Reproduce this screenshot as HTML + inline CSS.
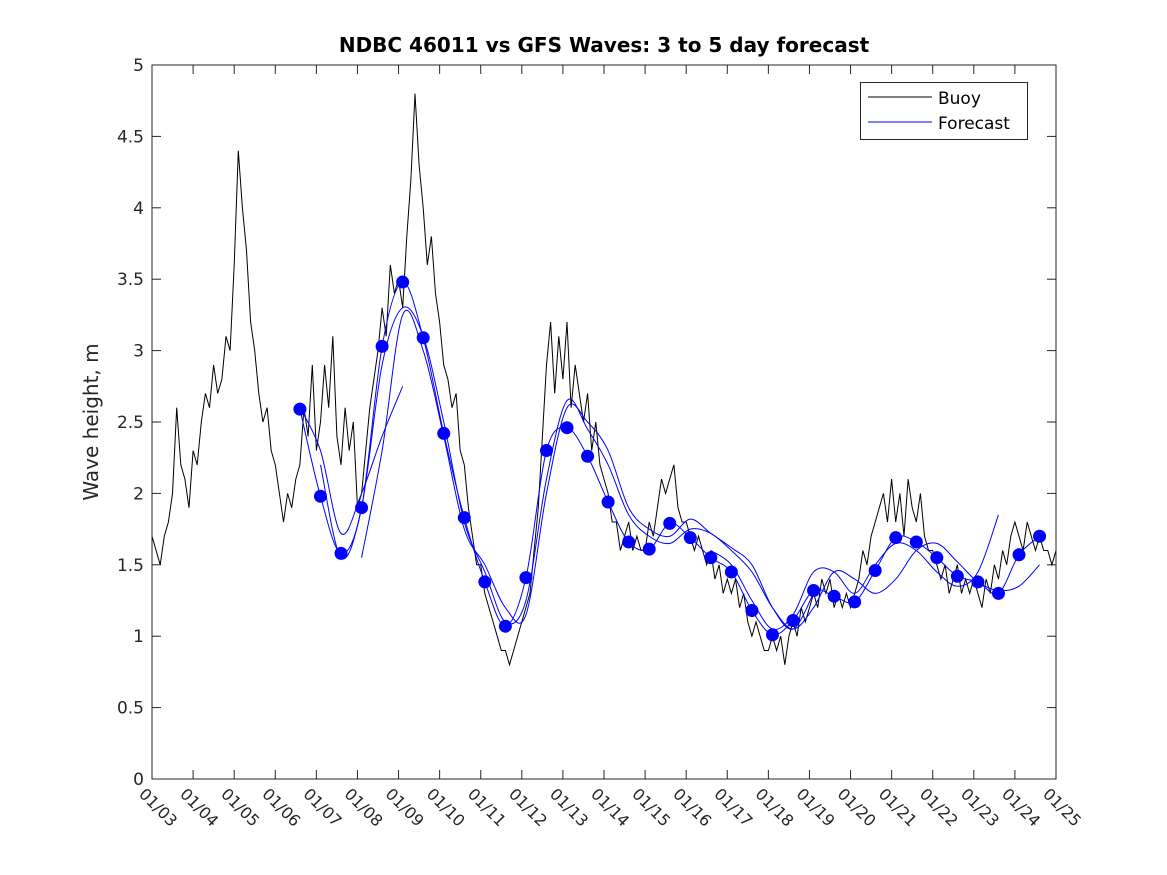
<!DOCTYPE html>
<html><head><meta charset="utf-8"><style>
html,body{margin:0;padding:0;background:#fff;}
svg{display:block;font-family:"DejaVu Sans","Liberation Sans",sans-serif;}
</style></head><body>
<svg id="chart" width="1167" height="875" viewBox="0 0 1167 875" xmlns="http://www.w3.org/2000/svg">
<rect width="1167" height="875" fill="#fff"/>
<text x="604" y="52" text-anchor="middle" font-size="20" font-weight="bold">NDBC 46011 vs GFS Waves: 3 to 5 day forecast</text>
<text transform="translate(98,422) rotate(-90)" text-anchor="middle" font-size="20" fill="#262626">Wave height, m</text>
<g id="axes"></g>
<g id="series"></g>
<rect x="152" y="65" width="904" height="714" fill="none" stroke="#262626" stroke-width="1"/>
<g>
<rect x="860.5" y="82.5" width="167" height="57" fill="#fff" stroke="#262626"/>
<line x1="868" y1="97" x2="932" y2="97" stroke="#000"/>
<text x="938" y="104" font-size="17">Buoy</text>
<line x1="868" y1="122" x2="932" y2="122" stroke="#00f"/>
<text x="938" y="129" font-size="17">Forecast</text>
</g>
</svg>
<script>
const xTickLabels=["01/03","01/04","01/05","01/06","01/07","01/08","01/09","01/10","01/11","01/12","01/13","01/14","01/15","01/16","01/17","01/18","01/19","01/20","01/21","01/22","01/23","01/24","01/25"];
const yTicks=[0,0.5,1,1.5,2,2.5,3,3.5,4,4.5,5];
const yTickLabels=["0","0.5","1","1.5","2","2.5","3","3.5","4","4.5","5"];
const buoyStart=0, buoyStep=0.1;
const buoyValues=[
1.7,1.6,1.5,1.7,1.8,2.0,2.6,2.2,2.1,1.9,
2.3,2.2,2.5,2.7,2.6,2.9,2.7,2.8,3.1,3.0,
3.6,4.4,4.0,3.7,3.2,3.0,2.7,2.5,2.6,2.3,
2.2,2.0,1.8,2.0,1.9,2.1,2.2,2.6,2.4,2.9,
2.3,2.5,2.9,2.6,3.1,2.4,2.2,2.6,2.3,2.5,
1.9,2.0,2.3,2.6,2.8,3.0,3.3,3.1,3.6,3.4,
3.5,3.3,3.8,4.2,4.8,4.3,4.0,3.6,3.8,3.4,
3.2,2.9,2.8,2.6,2.7,2.3,2.2,1.9,1.7,1.5,
1.5,1.3,1.2,1.1,1.0,0.9,0.9,0.8,0.9,1.0,
1.1,1.2,1.3,1.6,1.9,2.4,2.9,3.2,2.7,3.1,
2.8,3.2,2.6,2.9,2.7,2.5,2.7,2.3,2.5,2.2,
2.1,2.0,1.8,1.8,1.6,1.7,1.8,1.6,1.7,1.6,
1.6,1.8,1.7,1.9,2.1,2.0,2.1,2.2,1.9,1.8,
1.8,1.7,1.6,1.7,1.6,1.5,1.6,1.4,1.5,1.3,
1.4,1.3,1.4,1.2,1.3,1.1,1.0,1.1,1.0,0.9,
0.9,1.0,0.9,1.0,0.8,1.0,1.1,1.0,1.2,1.1,
1.2,1.3,1.2,1.4,1.3,1.4,1.2,1.3,1.2,1.3,
1.2,1.3,1.4,1.6,1.5,1.7,1.8,1.9,2.0,1.8,
2.1,1.8,2.0,1.7,2.1,1.9,1.8,2.0,1.7,1.6,
1.6,1.5,1.4,1.5,1.3,1.4,1.5,1.3,1.4,1.3,
1.4,1.3,1.2,1.4,1.3,1.5,1.4,1.6,1.5,1.7,
1.8,1.7,1.6,1.8,1.7,1.6,1.7,1.6,1.6,1.5,
1.6];
const dotStart=3.6, dotStep=0.5;
const dotValues=[2.59,1.98,1.58,1.90,3.03,3.48,3.09,2.42,1.83,1.38,1.07,1.41,2.30,2.46,2.26,1.94,1.66,1.61,1.79,1.69,1.55,1.45,1.18,1.01,1.11,1.32,1.28,1.24,1.46,1.69,1.66,1.55,1.42,1.38,1.30,1.57,1.70];
const run1Start=3.6;
const run1Values=[2.6,2.3,1.72,2.0,2.4,2.75];
const run3Start=4.1;
const run3Values=[2.2,1.55,1.9,2.9,3.3,3.1,2.5,1.8,1.45,1.1,1.25,2.1,2.65,2.45,2.2,1.85,1.7,1.65,1.75,1.72,1.6,1.45,1.2,1.05,1.2,1.45,1.4,1.3,1.4,1.6,1.65,1.52,1.38,1.32,1.35,1.5,1.55];
const run4Start=5.1;
const run4Values=[1.55,2.3,3.25,3.0,2.4,1.75,1.5,1.2,1.15,2.0,2.6,2.5,2.3,1.9,1.75,1.7,1.82,1.72,1.62,1.5,1.2,1.05,1.3];
const run5Start=13.6;
const run5Values=[1.6,1.5,1.25,1.05,1.15,1.45,1.45,1.3,1.5,1.65,1.6,1.45,1.35,1.45,1.85];

const X0=152,X1=1056,Y0=779,Y1=65,DMAX=22,VMAX=5;
function xs(d){return X0+(X1-X0)*d/DMAX;}
function ys(v){return Y0-(Y0-Y1)*v/VMAX;}
const NS="http://www.w3.org/2000/svg";
const axes=document.getElementById('axes'),series=document.getElementById('series');
function mk(tag,attrs,parent){const e=document.createElementNS(NS,tag);for(const k in attrs)e.setAttribute(k,attrs[k]);parent.appendChild(e);return e;}

xTickLabels.forEach((lab,i)=>{
  const x=xs(i);
  const t1=mk('line',{x1:x,y1:Y0,x2:x,y2:Y0-9,stroke:'#262626'},axes);
  
  
  const t2=mk('line',{x1:x,y1:Y1,x2:x,y2:Y1+9,stroke:'#262626'},axes);
  
  
  const t=mk('text',{transform:`translate(${x-14},${Y0+16}) rotate(45)`,'font-size':'16',fill:'#262626'},axes);
  t.textContent=lab;
  
  
});
yTicks.forEach((v,i)=>{
  const y=ys(v);
  const t1=mk('line',{x1:X0,y1:y,x2:X0+9,y2:y,stroke:'#262626'},axes);
  
  
  const t2=mk('line',{x1:X1,y1:y,x2:X1-9,y2:y,stroke:'#262626'},axes);
  
  
  const t=mk('text',{x:X0-8,y:y+6,'text-anchor':'end','font-size':'17',fill:'#262626'},axes);
  t.textContent=yTickLabels[i];
  
  
});

function smoothPath(pts){
  let d=`M${pts[0][0]},${pts[0][1]}`;
  for(let i=0;i<pts.length-1;i++){
    const p0=pts[i-1]||pts[i],p1=pts[i],p2=pts[i+1],p3=pts[i+2]||p2;
    const c1=[p1[0]+(p2[0]-p0[0])/6,p1[1]+(p2[1]-p0[1])/6];
    const c2=[p2[0]-(p3[0]-p1[0])/6,p2[1]-(p3[1]-p1[1])/6];
    d+=`C${c1[0]},${c1[1]} ${c2[0]},${c2[1]} ${p2[0]},${p2[1]}`;
  }
  return d;
}
const buoyPts=buoyValues.map((v,i)=>xs(buoyStart+i*buoyStep).toFixed(1)+','+ys(v).toFixed(1)).join(' ');
const bl=mk('polyline',{points:buoyPts,fill:'none',stroke:'#000','stroke-width':'1'},series);



function run(start,vals,name){
  const pts=vals.map((v,i)=>[xs(start+i*0.5),ys(v)]).filter(p=>p[0]<=X1);
  const p=mk('path',{d:smoothPath(pts),fill:'none',stroke:'#00f','stroke-width':'1'},series);
  
  
}
run(run1Start,run1Values,'forecast-run-1');
run(dotStart,dotValues,'forecast-run-2');
run(run3Start,run3Values,'forecast-run-3');
run(run4Start,run4Values,'forecast-run-4');
run(run5Start,run5Values,'forecast-run-5');
dotValues.forEach((v,i)=>{
  const c=mk('circle',{cx:xs(dotStart+i*dotStep),cy:ys(v),r:6.5,fill:'#00f'},series);
  
  
});
</script>
</body></html>
